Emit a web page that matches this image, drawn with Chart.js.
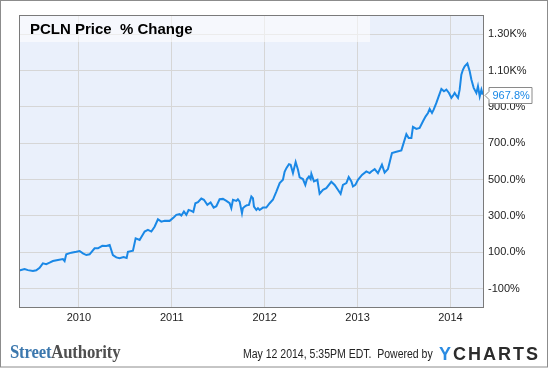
<!DOCTYPE html>
<html>
<head>
<meta charset="utf-8">
<script src="https://cdn.jsdelivr.net/npm/chart.js@4.4.2/dist/chart.umd.min.js"></script>
<style>
  body { margin: 0; background: #fff; }
  #wrap { position: relative; width: 550px; height: 368px; overflow: hidden; }
  #chart { position: absolute; left: 0; top: 0; }
  .foot { position: absolute; white-space: nowrap; transform-origin: 0 0; }
  #logo { left: 10px; top: 342px; font: bold 19px "Liberation Serif", "Times New Roman", serif;
          line-height: 19px; transform: scaleX(0.88); letter-spacing: -0.2px; }
  #logo .a { color: #3c78ae; }
  #logo .b { color: #4f4f4f; }
  #stamp { left: 243px; top: 348px; font: 12px "Liberation Sans", Arial, sans-serif;
           line-height: 12px; color: #222; transform: scaleX(0.875); }
  #ych { left: 439px; top: 345px; font: bold 18px "Liberation Sans", Arial, sans-serif;
         line-height: 18px; letter-spacing: 2px; color: #2c2c2c; }
  #ych .y { color: #2a8be2; }
</style>
</head>
<body>
<div id="wrap">
  <canvas id="chart" width="550" height="368"></canvas>
  <div class="foot" id="logo"><span class="a">Street</span><span class="b">Authority</span></div>
  <div class="foot" id="stamp">May 12 2014, 5:35PM EDT.&nbsp; Powered by</div>
  <div class="foot" id="ych"><span class="y">Y</span>CHARTS</div>
</div>
<script>
// PCLN price % change (x in decimal years)
const dates = [
  2009.358, 2009.415, 2009.451, 2009.505, 2009.541, 2009.577, 2009.612, 2009.649, 2009.684, 2009.720,
  2009.774, 2009.828, 2009.846, 2009.864, 2009.918, 2009.972, 2010.008, 2010.043, 2010.080, 2010.115,
  2010.169, 2010.205, 2010.252, 2010.295, 2010.331, 2010.366, 2010.403, 2010.438, 2010.481, 2010.514,
  2010.528, 2010.582, 2010.611, 2010.654, 2010.708, 2010.743, 2010.780, 2010.815, 2010.851, 2010.887,
  2010.923, 2010.977, 2011.023, 2011.049, 2011.085, 2011.103, 2011.131, 2011.157, 2011.181, 2011.211,
  2011.232, 2011.254, 2011.282, 2011.318, 2011.346, 2011.383, 2011.418, 2011.451, 2011.480, 2011.515,
  2011.551, 2011.588, 2011.623, 2011.641, 2011.659, 2011.695, 2011.712, 2011.731, 2011.756, 2011.766,
  2011.785, 2011.809, 2011.831, 2011.857, 2011.874, 2011.885, 2011.911, 2011.928, 2011.946, 2011.982,
  2012.018, 2012.054, 2012.089, 2012.126, 2012.162, 2012.197, 2012.215, 2012.234, 2012.262, 2012.280,
  2012.305, 2012.334, 2012.359, 2012.377, 2012.412, 2012.438, 2012.456, 2012.477, 2012.495, 2012.503,
  2012.531, 2012.568, 2012.592, 2012.628, 2012.664, 2012.718, 2012.754, 2012.789, 2012.818, 2012.843,
  2012.880, 2012.905, 2012.934, 2012.951, 2012.977, 2013.005, 2013.048, 2013.095, 2013.131, 2013.149,
  2013.185, 2013.220, 2013.263, 2013.292, 2013.328, 2013.371, 2013.418, 2013.472, 2013.526, 2013.551,
  2013.580, 2013.597, 2013.634, 2013.669, 2013.705, 2013.734, 2013.759, 2013.777, 2013.802, 2013.820,
  2013.849, 2013.874, 2013.903, 2013.931, 2013.957, 2013.985, 2014.011, 2014.028, 2014.046, 2014.065,
  2014.082, 2014.100, 2014.118, 2014.136, 2014.154, 2014.183, 2014.208, 2014.226, 2014.251, 2014.280,
  2014.297, 2014.316, 2014.334, 2014.348
];
const pctChange = [
  0, 8, 2, -3, 1, 15, 39, 35, 43, 52,
  58, 63, 52, 89, 98, 103, 107, 94, 85, 89,
  122, 122, 136, 135, 140, 85, 72, 67, 74, 69,
  103, 109, 177, 168, 214, 223, 214, 241, 282, 269,
  274, 273, 293, 306, 310, 302, 324, 306, 333, 328,
  322, 370, 376, 396, 389, 361, 374, 346, 354, 392,
  394, 383, 370, 343, 389, 383, 392, 379, 315, 343,
  352, 359, 361, 407, 398, 352, 333, 343, 333, 346,
  346, 370, 389, 434, 481, 499, 543, 563, 585, 582,
  536, 597, 554, 512, 503, 471, 503, 517, 503, 532,
  490, 499, 422, 444, 453, 488, 471, 444, 422, 471,
  481, 514, 490, 462, 471, 499, 526, 545, 536, 545,
  558, 536, 582, 539, 558, 646, 653, 661, 750, 729,
  729, 790, 779, 784, 821, 848, 867, 889, 867, 885,
  922, 958, 999, 986, 995, 977, 950, 962, 977, 962,
  950, 995, 1078, 1106, 1124, 1139, 1096, 1051, 1005, 977,
  1014, 958, 995, 967.8
];

const xTicks = [2010, 2011, 2012, 2013, 2014];
const xTickLabels = ['2010', '2011', '2012', '2013', '2014'];
const yTicks = [-100, 100, 300, 500, 700, 900, 1100, 1300];
const yTickLabels = ['-100%', '100.0%', '300.0%', '500.0%', '700.0%', '900.0%', '1.10K%', '1.30K%'];
const lastLabel = '967.8%';

const lineColor = '#1a88e6';

const decor = {
  id: 'decor',
  beforeDraw(chart) {
    const {ctx, chartArea: a} = chart;
    ctx.save();
    ctx.fillStyle = '#ffffff';
    ctx.fillRect(0, 0, chart.width, chart.height);
    ctx.fillStyle = '#eaf0fb';
    ctx.fillRect(a.left, a.top, a.right - a.left, a.bottom - a.top);
    ctx.restore();
  },
  beforeDatasetsDraw(chart) {
    const {ctx, chartArea: a} = chart;
    ctx.save();
    // title band
    ctx.fillStyle = 'rgba(255,255,255,0.55)';
    ctx.fillRect(a.left, a.top, 370 - a.left, 27);
    ctx.fillStyle = '#000';
    ctx.font = 'bold 15px "Liberation Sans", Arial, sans-serif';
    ctx.textBaseline = 'middle';
    ctx.fillText('PCLN Price  % Change', 30, 29.5);
    ctx.restore();
  },
  afterDraw(chart) {
    const {ctx, chartArea: a} = chart;
    ctx.save();
    ctx.strokeStyle = '#7a7a7a';
    ctx.lineWidth = 1;
    ctx.strokeRect(a.left + 0.5, a.top + 0.5, a.right - a.left - 1, a.bottom - a.top);
    ctx.strokeStyle = '#8c8c8c';
    ctx.strokeRect(0.5, 0.5, 547, 366.5);

    // last value flag
    const yv = chart.scales.y.getPixelForValue(pctChange[pctChange.length - 1]);
    const bx = a.right + 5, bw = 43, bh = 16, by = Math.round(yv - bh / 2) + 0.5;
    ctx.beginPath();
    ctx.moveTo(bx, by);
    ctx.lineTo(bx + bw, by);
    ctx.lineTo(bx + bw, by + bh);
    ctx.lineTo(bx, by + bh);
    ctx.lineTo(bx, by + bh / 2 + 4);
    ctx.lineTo(a.right + 1, by + bh / 2);
    ctx.lineTo(bx, by + bh / 2 - 4);
    ctx.closePath();
    ctx.fillStyle = '#fff';
    ctx.fill();
    ctx.strokeStyle = '#8a8a8a';
    ctx.stroke();
    ctx.fillStyle = lineColor;
    ctx.font = '11px "Liberation Sans", Arial, sans-serif';
    ctx.textBaseline = 'middle';
    ctx.fillText(lastLabel, bx + 3.5, by + bh / 2 + 0.5);
    ctx.restore();
  }
};

new Chart(document.getElementById('chart'), {
  type: 'line',
  data: {
    datasets: [{
      data: dates.map((d, i) => ({x: d, y: pctChange[i]})),
      borderColor: lineColor,
      borderWidth: 2,
      pointRadius: 0,
      tension: 0,
      fill: false
    }]
  },
  options: {
    responsive: false,
    devicePixelRatio: 1,
    animation: false,
    layout: {padding: {left: 19, top: 15, right: 0, bottom: 0}},
    plugins: {legend: {display: false}, tooltip: {enabled: false}},
    scales: {
      x: {
        type: 'linear',
        min: 2009.355,
        max: 2014.362,
        afterBuildTicks: s => { s.ticks = xTicks.map(v => ({value: v})); },
        afterFit: s => { s.height = 61; },
        grid: {color: '#d6d6d6', drawTicks: false},
        border: {display: false},
        ticks: {
          autoSkip: false,
          maxRotation: 0,
          padding: 4,
          color: '#222',
          font: {family: '"Liberation Sans", Arial, sans-serif', size: 11},
          callback: v => xTickLabels[xTicks.indexOf(v)]
        }
      },
      y: {
        position: 'right',
        min: -201,
        max: 1406,
        afterBuildTicks: s => { s.ticks = yTicks.map(v => ({value: v})); },
        afterFit: s => { s.width = 66; },
        grid: {color: '#d6d6d6', drawTicks: false},
        border: {display: false},
        ticks: {
          padding: 4,
          color: '#222',
          font: {family: '"Liberation Sans", Arial, sans-serif', size: 11},
          callback: v => yTickLabels[yTicks.indexOf(v)]
        }
      }
    }
  },
  plugins: [decor]
});
</script>
</body>
</html>
